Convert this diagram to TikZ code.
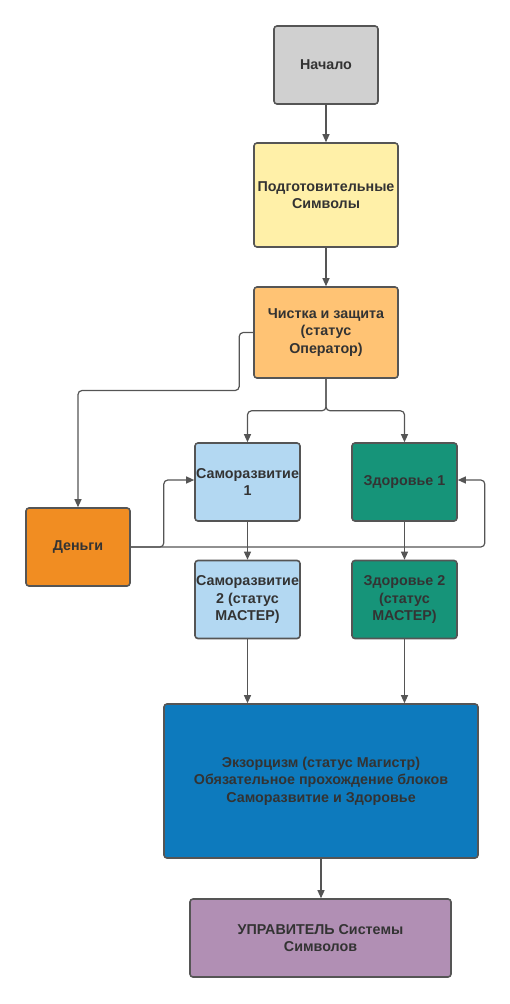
\documentclass[tikz,border=0pt]{standalone}
\usepackage{fontspec}
\setmainfont{Liberation Sans}
\usepackage{xcolor}
\usetikzlibrary{positioning,arrows.meta}
\definecolor{edgegrey}{HTML}{555555}
\definecolor{textdark}{HTML}{333333}
\definecolor{startbg}{HTML}{D0D0D0}
\definecolor{prepbg}{HTML}{FFF0A8}
\definecolor{cleanbg}{HTML}{FFC374}
\definecolor{moneybg}{HTML}{F18D22}
\definecolor{selfbg}{HTML}{B3D8F2}
\definecolor{healthbg}{HTML}{169479}
\definecolor{exorbg}{HTML}{0D7ABD}
\definecolor{masterbg}{HTML}{B18FB4}
\tikzset{
  box/.style={
    draw=edgegrey, rounded corners=3pt, align=center, inner sep=0pt,
    font=\bfseries\fontsize{14.3}{17.5}\selectfont, text=textdark,
    minimum width=104pt, minimum height=78pt, line width=1.6pt,
  },
  startbox/.style ={box, fill=startbg},
  prepbox/.style  ={box, fill=prepbg, minimum width=144pt, minimum height=104pt},
  cleanbox/.style ={box, fill=cleanbg, minimum width=144pt, minimum height=91pt},
  moneybox/.style ={box, fill=moneybg},
  selfbox/.style  ={box, fill=selfbg, minimum width=105pt},
  healthbox/.style={box, fill=healthbg, minimum width=105pt},
  exorbox/.style  ={box, fill=exorbg, minimum width=314pt, minimum height=154pt},
  masterbox/.style={box, fill=masterbg, minimum width=261pt},
  flow/.style={-{Triangle[length=8pt, width=7pt]}, draw=edgegrey, line width=1.2pt,
               rounded corners=4pt},
}

\begin{document}
\begin{tikzpicture}[x=1pt, y=-1pt]
\useasboundingbox (0,0) rectangle (510,1004);

% ------------------------------------------------------------- main column
\node[startbox] (start) at (326,65) {Начало};
\node[prepbox] (prep) at (326,195) {Подготовительные\\Символы};
\node[cleanbox] (clean) at (326,332.5) {Чистка и защита\\(статус\\Оператор)};

% ------------------------------------------------------------- branches
\node[moneybox] (money) at (78,547) {Деньги};
\node[selfbox] (self1) at (247.5,482) {Саморазвитие\\1};
\node[healthbox] (health1) at (404.5,482) {Здоровье 1};
\node[selfbox] (self2) at (247.5,599.5) {Саморазвитие\\2 (статус\\МАСТЕР)};
\node[healthbox] (health2) at (404.5,599.5) {Здоровье 2\\(статус\\МАСТЕР)};

% ------------------------------------------------------------- final steps
\node[exorbox] (exor) at (321,781)
  {Экзорцизм (статус Магистр)\\Обязательное прохождение блоков\\Саморазвитие и Здоровье};
\node[masterbox] (master) at (320.5,938) {УПРАВИТЕЛЬ Системы\\Символов};

% ------------------------------------------------------------- connectors
\draw[flow] (start) -- (prep);
\draw[flow] (prep) -- (clean);
\draw[flow] (clean.west) -- ++(-14,0) -- ++(0,58) -| (money.north);
\draw[flow] (clean.south) -- ++(0,32) -| (self1.north);
\draw[flow] (clean.south) -- ++(0,32) -| (health1.north);
\draw[flow] (self1) -- (self2);
\draw[flow] (health1) -- (health2);
\draw[flow] (money.east) -- ++(33,0) |- ([yshift=2pt]self1.west);
\draw[flow] (money.east) -| ([xshift=27pt, yshift=2pt]health1.east)
  -- ([yshift=2pt]health1.east);
\draw[flow] (self2.south) -- (self2.south |- exor.north);
\draw[flow] (health2.south) -- (health2.south |- exor.north);
\draw[flow] (exor.south) -- (exor.south |- master.north);

\end{tikzpicture}
\end{document}
